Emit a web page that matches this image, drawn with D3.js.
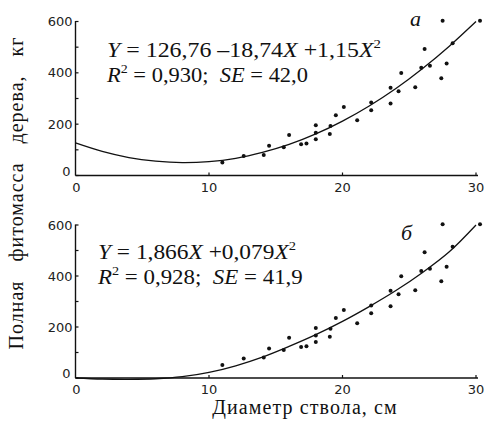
<!DOCTYPE html>
<html><head><meta charset="utf-8">
<script src="https://cdn.jsdelivr.net/npm/d3@7"></script>
<style>
html,body{margin:0;padding:0;background:#fff;}
svg{display:block;}
.tick-label{font-family:"DejaVu Sans",sans-serif;font-size:13px;fill:#222;}
.serif{font-family:"Liberation Serif",serif;fill:#111;}
</style></head>
<body>
<svg id="chart" width="485" height="421"></svg>
<script>
// Data: stem diameter (cm) and total tree phytomass (kg)
const diameters = [11.0,12.6,14.1,14.5,15.6,16.0,16.9,17.3,18.0,18.0,18.0,19.05,19.1,19.5,20.1,21.1,22.15,22.15,23.6,23.6,24.2,24.4,25.45,25.9,26.15,26.55,27.4,27.5,27.8,28.25,30.3];
const biomass   = [51,76,80,116,110,158,122,125,196,167,141,162,193,235,267,215,254,284,281,342,328,399,344,420,493,428,379,603,436,515,603];

// Fitted curves
const curveX   = [0,2,4,6,8,10,12,14,16,18,20,22,24,26,28,30];
const curveA_Y = [127,94,70,56,50,54,67,90,121,162,212,271,339,417,504,600];
const curveB_Y = [0,-4,-5,-3,5,22,48,82,124,170,222,280,343,414,495,600];

const xTicks = [0,10,20,30];
const yTicks = [0,200,400,600];
const yMinorTicks = [100,300,500];

const panels = [
  {top:21.5, bottom:175.5, curveY:curveA_Y, letter:"a", letterX:410, letterY:26,
   eq1:[["Y","i"],[" = 126,76 –18,74",""],["X","i"],[" +1,15",""],["X","i"],["2","sup"]], eqX:107, eq1Y:57, eq1W:274,
   eq2:[["R","i"],["2","sup"],[" = 0,930;  ",""],["SE","i"],[" = 42,0",""]], eq2Y:82, eq2W:201},
  {top:225, bottom:378, curveY:curveB_Y, letter:"б", letterX:401, letterY:240,
   eq1:[["Y","i"],[" = 1,866",""],["X","i"],[" +0,079",""],["X","i"],["2","sup"]], eqX:98, eq1Y:259, eq1W:198,
   eq2:[["R","i"],["2","sup"],[" = 0,928;  ",""],["SE","i"],[" = 41,9",""]], eq2Y:284, eq2W:205}
];

const svg = d3.select("#chart");
const x = d3.scaleLinear().domain([0,30]).range([75.5,476]);

function addRich(g, parts, xPos, yPos, size, width){
  const t = g.append("text").attr("class","serif").attr("x",0).attr("y",0)
    .attr("font-family","Liberation Serif, serif")
    .attr("font-size",size).attr("xml:space","preserve").style("white-space","pre");
  let raised = false;
  parts.forEach(([s,st])=>{
    const ts = t.append("tspan").attr("font-family","Liberation Serif, serif").text(s);
    if(st==="i") ts.attr("font-style","italic");
    if(st==="sup"){ ts.attr("font-size",size*0.62).attr("dy",-size*0.42); raised = true; }
    else if(raised){ ts.attr("dy",size*0.42); raised = false; }
  });
  const len = t.node().getComputedTextLength();
  const k = len > 0 ? width / len : 1;
  t.attr("transform",`translate(${xPos},${yPos}) scale(${k.toFixed(3)},1)`);
}

panels.forEach(p=>{
  const y = d3.scaleLinear().domain([0,600]).range([p.bottom,p.top]);
  const g = svg.append("g");
  g.append("line").attr("x1",x(0)).attr("x2",x(30)+2).attr("y1",y(0)).attr("y2",y(0)).attr("stroke","#111").attr("stroke-width",1.4);
  g.append("line").attr("x1",x(0)).attr("x2",x(0)).attr("y1",y(0)).attr("y2",y(600)-0.5).attr("stroke","#111").attr("stroke-width",1.4);
  yTicks.concat(yMinorTicks).forEach(v=>{
    g.append("line").attr("x1",x(0)).attr("x2",x(0)+3).attr("y1",y(v)).attr("y2",y(v)).attr("stroke","#111").attr("stroke-width",1.2);
  });
  yTicks.forEach(v=>{
    g.append("text").attr("class","tick-label").attr("x",x(0)-(v===0?5:3)).attr("y",y(v)+ (v===0?0:4.5))
      .attr("text-anchor","end").text(v);
  });
  xTicks.forEach(v=>{
    if(v>0) g.append("line").attr("x1",x(v)).attr("x2",x(v)).attr("y1",y(0)).attr("y2",y(0)-3).attr("stroke","#111").attr("stroke-width",1.2);
    g.append("text").attr("class","tick-label").attr("x",x(v)+(v===0?1:0)).attr("y",y(0)+16)
      .attr("text-anchor","middle").text(v);
  });
  const line = d3.line().x((d,i)=>x(curveX[i])).y(d=>y(d)).curve(d3.curveCatmullRom);
  g.append("path").datum(p.curveY).attr("d",line).attr("fill","none").attr("stroke","#111").attr("stroke-width",1.3);
  g.selectAll("circle.pt").data(diameters).enter().append("circle")
    .attr("cx",d=>x(d)).attr("cy",(d,i)=>y(biomass[i])).attr("r",2).attr("fill","#111");
  addRich(g,p.eq1,p.eqX,p.eq1Y,21,p.eq1W);
  addRich(g,p.eq2,p.eqX,p.eq2Y,21,p.eq2W);
  g.append("text").attr("class","serif").attr("x",p.letterX).attr("y",p.letterY)
    .attr("font-size",22).attr("font-style","italic").text(p.letter);
});

svg.append("text").attr("class","serif").attr("font-size",20)
  .attr("transform","translate(23,193) rotate(-90)").attr("text-anchor","middle")
  .attr("word-spacing",13).attr("letter-spacing",1).text("Полная фитомасса дерева, кг");
svg.append("text").attr("class","serif").attr("font-size",20)
  .attr("x",305).attr("y",414).attr("text-anchor","middle").attr("letter-spacing",1.1).text("Диаметр ствола, см");
</script>
</body></html>
